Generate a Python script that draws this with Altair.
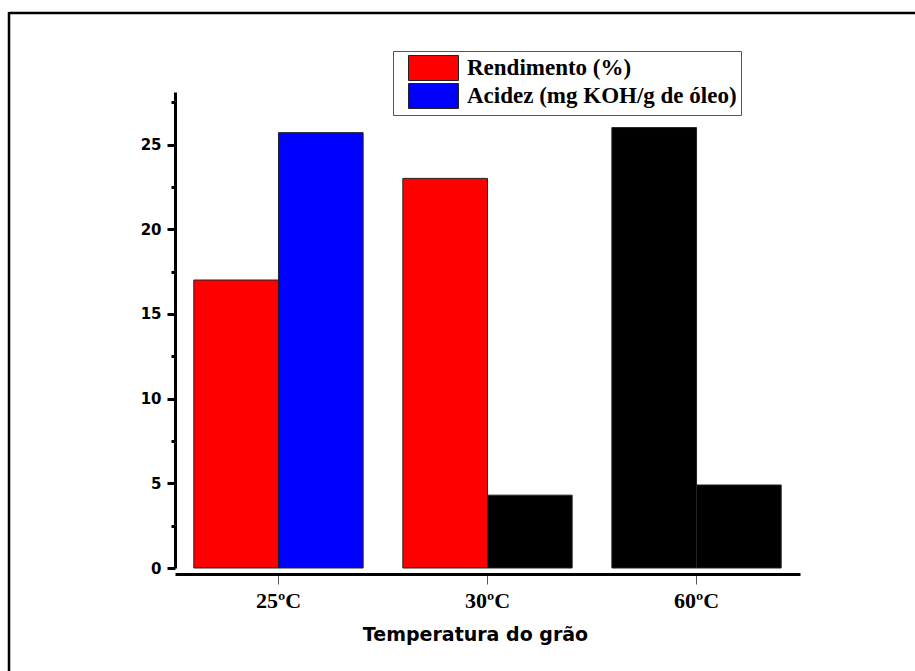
import altair as alt
import pandas as pd

# Valores por temperatura do grão
temperaturas = ["25ºC", "30ºC", "60ºC"]
rendimento = [17.0, 23.0, 26.0]
acidez = [25.7, 4.3, 4.9]

# Cor de preenchimento de cada barra (Rendimento, Acidez)
cor_rendimento = ["Rendimento (%)", "Rendimento (%)", "outro"]
cor_acidez = ["Acidez (mg KOH/g de óleo)", "outro", "outro"]

serie_nomes = ["Rendimento", "Acidez"]
legenda_nomes = ["Rendimento (%)", "Acidez (mg KOH/g de óleo)", "outro"]
legenda_cores = ["#FF0000", "#0000FF", "#000000"]

y_ticks = [0, 5, 10, 15, 20, 25]
y_minor = [2.5, 7.5, 12.5, 17.5, 22.5, 27.5]

linhas = []
for t, r, a, cr, ca in zip(temperaturas, rendimento, acidez, cor_rendimento, cor_acidez):
    linhas.append({"temp": t, "serie": "Rendimento", "valor": r, "cor": cr})
    linhas.append({"temp": t, "serie": "Acidez", "valor": a, "cor": ca})
df = pd.DataFrame(linhas)

y_scale = alt.Scale(domain=[0, 28.1], nice=False, zero=True)
x_scale = alt.Scale(paddingInner=0.19, paddingOuter=0.09)

barras = alt.Chart(df).mark_bar(stroke="#222222", strokeWidth=1).encode(
    x=alt.X(
        "temp:N",
        sort=temperaturas,
        scale=x_scale,
        axis=alt.Axis(
            title="Temperatura do grão",
            labelAngle=0,
            labelFont="Liberation Serif",
            labelFontWeight="bold",
            labelFontSize=22,
            labelColor="#000000",
            labelPadding=6,
            tickColor="#555555",
            tickWidth=1,
            tickSize=10,
            domainColor="#000000",
            domainWidth=3,
            offset=6,
            titleFont="DejaVu Sans",
            titleFontWeight="bold",
            titleFontSize=19,
            titleColor="#000000",
            titlePadding=14,
            titleAnchor="start",
            titleAlign="center",
            titleX=300,
        ),
    ),
    xOffset=alt.XOffset("serie:N", sort=serie_nomes, scale=alt.Scale(paddingInner=0, paddingOuter=0)),
    y=alt.Y(
        "valor:Q",
        scale=y_scale,
        axis=alt.Axis(
            title=None,
            values=y_ticks,
            orient="left",
            grid=False,
            labelFont="DejaVu Sans",
            labelFontWeight="bold",
            labelFontSize=15,
            labelColor="#000000",
            labelPadding=6,
            tickColor="#000000",
            tickWidth=3,
            tickSize=8,
            domainColor="#000000",
            domainWidth=3,
        ),
    ),
    color=alt.Color(
        "cor:N",
        scale=alt.Scale(domain=legenda_nomes, range=legenda_cores),
        legend=alt.Legend(
            title=None,
            values=legenda_nomes[:2],
            orient="none",
            legendX=218,
            legendY=-41,
            padding=4,
            rowPadding=-2,
            strokeColor="#555555",
            fillColor="#FFFFFF",
            symbolType="M-0.12,-1H3.88V1H-0.12Z",
            symbolSize=625,
            symbolStrokeColor="#222222",
            symbolStrokeWidth=1,
            symbolOpacity=1,
            labelFont="Liberation Serif",
            labelFontWeight="bold",
            labelFontSize=23,
            labelColor="#000000",
            labelOffset=44,
            labelLimit=400,
        ),
    ),
)

# Marcas menores do eixo y
menores = alt.Chart(df).mark_tick(opacity=0).encode(
    y=alt.Y(
        "valor:Q",
        scale=y_scale,
        axis=alt.Axis(
            title=None,
            orient="left",
            values=y_minor,
            labels=False,
            domain=False,
            grid=False,
            tickColor="#000000",
            tickWidth=3,
            tickSize=4,
        ),
    ),
)

# Moldura externa (topo e lado esquerdo)
um = pd.DataFrame({"k": [0]})
moldura_topo = alt.Chart(um).mark_rule(color="#000000", strokeWidth=2.5).encode(
    x=alt.value(-166), x2=alt.value(740), y=alt.value(-79)
)
moldura_esq = alt.Chart(um).mark_rule(color="#000000", strokeWidth=2.5).encode(
    x=alt.value(-166), y=alt.value(-80), y2=alt.value(579)
)

chart = (
    alt.layer(barras, menores, moldura_topo, moldura_esq)
    .resolve_axis(y="independent")
    .properties(
        width=625,
        height=476,
        autosize=alt.AutoSizeParams(type="none"),
        padding={"left": 175, "top": 92, "right": 115, "bottom": 103},
        background="#FFFFFF",
    )
    .configure_view(stroke=None)
)

chart.save("out.html", embed_options={"renderer": "svg", "actions": False})
